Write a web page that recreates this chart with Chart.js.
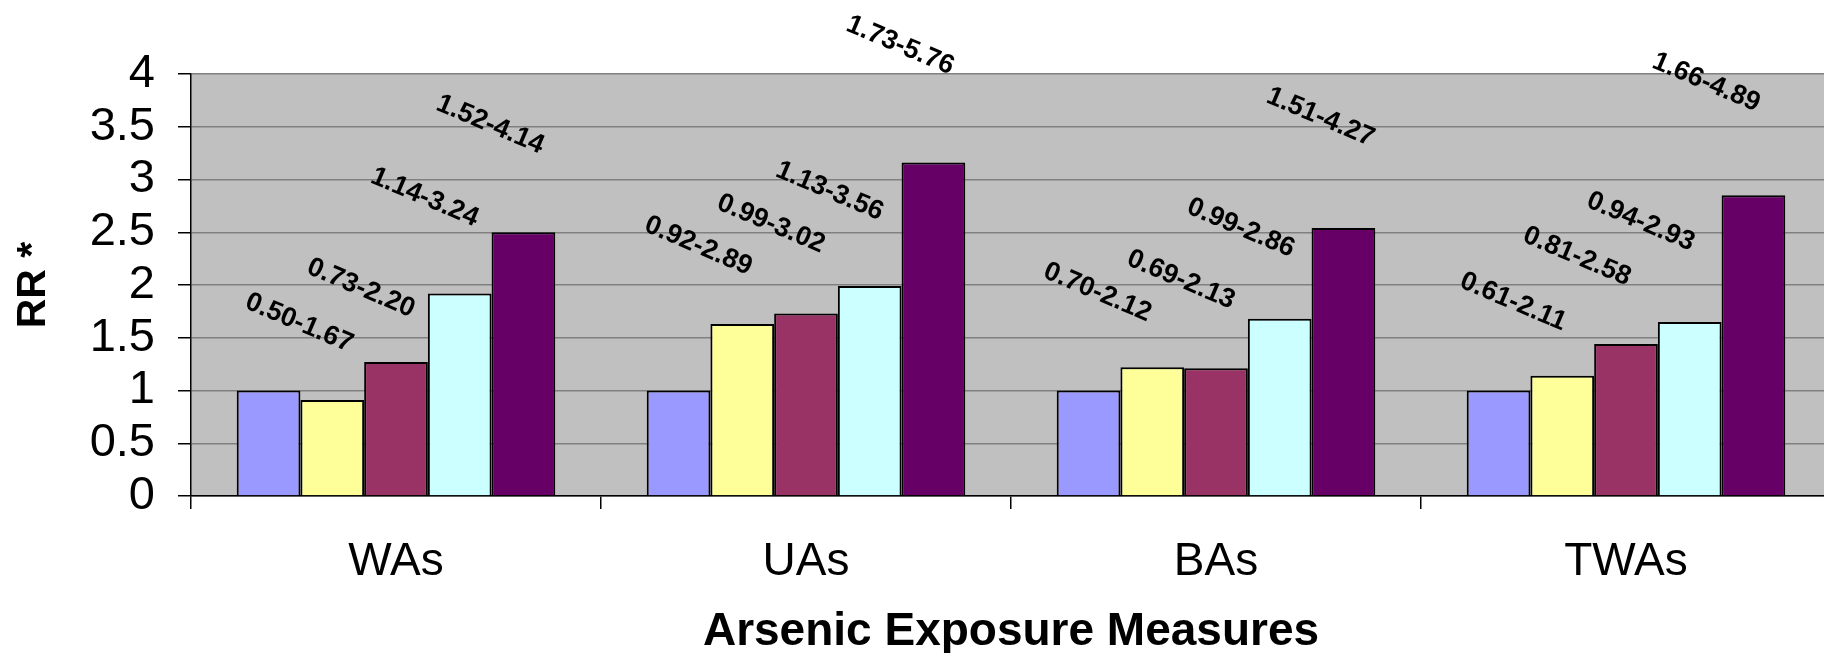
<!DOCTYPE html>
<html>
<head>
<meta charset="utf-8">
<title>Arsenic Exposure Measures – RR</title>
<script src="https://cdn.jsdelivr.net/npm/chart.js@4/dist/chart.umd.min.js"></script>
<style>
  html, body { margin: 0; padding: 0; background: #ffffff; overflow: hidden; }
  #wrap { width: 1832px; height: 653px; }
</style>
</head>
<body>
<div id="wrap"><canvas id="rrChart" width="1832" height="653"></canvas></div>
<script>
// Exposure measures on the category axis
const categories = ['WAs', 'UAs', 'BAs', 'TWAs'];

// Relative risk per exposure level (level 1 is the reference group)
const rrLevel1 = [1.00, 1.00, 1.00, 1.00];
const rrLevel2 = [0.91, 1.63, 1.22, 1.14];
const rrLevel3 = [1.27, 1.73, 1.21, 1.44];
const rrLevel4 = [1.92, 1.99, 1.68, 1.65];
const rrLevel5 = [2.50, 3.16, 2.54, 2.85];

// 95% confidence intervals printed next to levels 2–5
const ciLevel2 = ['0.50-1.67', '0.92-2.89', '0.70-2.12', '0.61-2.11'];
const ciLevel3 = ['0.73-2.20', '0.99-3.02', '0.69-2.13', '0.81-2.58'];
const ciLevel4 = ['1.14-3.24', '1.13-3.56', '0.99-2.86', '0.94-2.93'];
const ciLevel5 = ['1.52-4.14', '1.73-5.76', '1.51-4.27', '1.66-4.89'];

// Y axis tick values and their labels
const yTickValues = [0, 0.5, 1, 1.5, 2, 2.5, 3, 3.5, 4];
const yTickLabels = ['0', '0.5', '1', '1.5', '2', '2.5', '3', '3.5', '4'];

// Where each CI text sits: height in RR units, sideways shift in bar widths
const ciAnchorRR = [
  [1.64, 2.37, 1.93, 1.84],
  [1.97, 2.58, 2.05, 2.27],
  [2.83, 2.89, 2.54, 2.60],
  [3.52, 4.27, 3.59, 3.92]
];
const ciShiftBars = [
  [-0.52, -0.69, -0.86, -0.77],
  [-0.55, -0.55, -0.55, -0.77],
  [-0.55, -0.63, -0.61, -0.77],
  [-0.52, -0.52, -0.36, -0.74]
];

const FONT = '"Liberation Sans", Arial, Helvetica, sans-serif';
const barColors = ['#9999FF', '#FFFF99', '#993366', '#CCFFFF', '#660066'];
const levels = [rrLevel1, rrLevel2, rrLevel3, rrLevel4, rrLevel5];
const ciSets = [null, ciLevel2, ciLevel3, ciLevel4, ciLevel5];

// Grey plotting area behind the bars
const plotBackground = {
  id: 'plotBackground',
  beforeDraw(chart) {
    const { ctx, chartArea: a } = chart;
    ctx.save();
    ctx.fillStyle = '#ffffff';
    ctx.fillRect(0, 0, chart.width, chart.height);
    ctx.fillStyle = '#C0C0C0';
    ctx.fillRect(a.left, a.top, a.right - a.left, a.bottom - a.top);
    ctx.restore();
  }
};

// Rotated confidence-interval text above the bars
const ciText = {
  id: 'ciText',
  afterDraw(chart) {
    const { ctx } = chart;
    const yScale = chart.scales.y;
    ctx.save();
    ctx.fillStyle = '#000000';
    ctx.font = 'bold 27px ' + FONT;
    ctx.textAlign = 'center';
    ctx.textBaseline = 'middle';
    for (let s = 1; s < ciSets.length; s++) {
      const meta = chart.getDatasetMeta(s);
      meta.data.forEach((bar, i) => {
        const x = bar.x + ciShiftBars[s - 1][i] * bar.width;
        const y = yScale.getPixelForValue(ciAnchorRR[s - 1][i]);
        ctx.save();
        ctx.translate(x, y);
        ctx.rotate(23 * Math.PI / 180);
        ctx.fillText(ciSets[s][i], 0, 0);
        ctx.restore();
      });
    }
    ctx.restore();
  }
};

new Chart(document.getElementById('rrChart'), {
  type: 'bar',
  data: {
    labels: categories,
    datasets: levels.map((vals, k) => ({
      label: 'Level ' + (k + 1),
      data: vals,
      backgroundColor: barColors[k],
      borderColor: '#000000',
      borderWidth: 2,
      borderSkipped: 'bottom',
      categoryPercentage: 0.777,
      barPercentage: 1.0
    }))
  },
  options: {
    responsive: false,
    devicePixelRatio: 1,
    animation: false,
    layout: { padding: { top: 74, right: 1, left: 0, bottom: 0 } },
    plugins: {
      legend: { display: false },
      tooltip: { enabled: false }
    },
    scales: {
      x: {
        grid: {
          display: true,
          drawOnChartArea: false,
          tickLength: 13,
          tickColor: '#000000',
          lineWidth: 1.5
        },
        border: { color: '#000000', width: 1.5 },
        ticks: {
          color: '#000000',
          padding: 26,
          font: { family: FONT, size: 46 }
        },
        title: {
          display: true,
          text: 'Arsenic Exposure Measures',
          color: '#000000',
          font: { family: FONT, size: 46, weight: 'bold', lineHeight: 0.9 },
          padding: { top: 0, bottom: 0 }
        },
        afterFit(scale) { scale.height = 157; }
      },
      y: {
        min: 0,
        max: 4,
        afterBuildTicks(scale) {
          scale.ticks = yTickValues.map(v => ({ value: v }));
        },
        grid: {
          color: '#808080',
          lineWidth: 1.5,
          tickLength: 13,
          tickColor: '#000000'
        },
        border: { color: '#000000', width: 1.5 },
        ticks: {
          color: '#000000',
          padding: 23,
          autoSkip: false,
          font: { family: FONT, size: 47 },
          callback(value) {
            const k = yTickValues.indexOf(value);
            return k >= 0 ? yTickLabels[k] : '';
          }
        },
        title: {
          display: true,
          text: 'RR *',
          color: '#000000',
          font: { family: FONT, size: 41, weight: 'bold', lineHeight: 1.2 },
          padding: { top: 9, bottom: 0 }
        },
        afterFit(scale) { scale.width = 191; }
      }
    }
  },
  plugins: [plotBackground, ciText]
});
</script>
</body>
</html>
